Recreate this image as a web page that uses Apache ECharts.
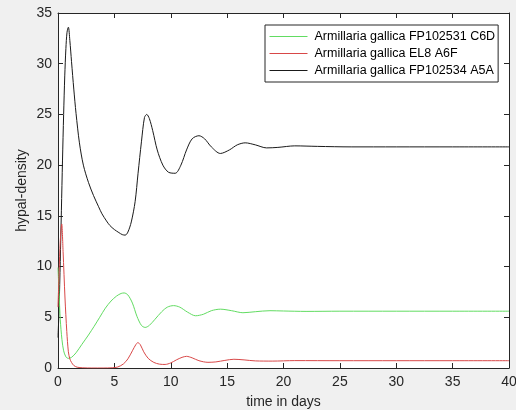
<!DOCTYPE html>
<html>
<head>
<meta charset="utf-8">
<script src="https://cdn.jsdelivr.net/npm/echarts@6/dist/echarts.min.js"></script>
<style>
  html, body { margin: 0; padding: 0; background: #f0f0f0; }
  #chart { width: 516px; height: 410px; }
</style>
</head>
<body>
<div id="chart"></div>
<script>
// series names (legend order)
var names = ['Armillaria gallica FP102531 C6D', 'Armillaria gallica EL8 A6F', 'Armillaria gallica FP102534 A5A'];

// green: FP102531 C6D
var tGreen = [0, 0.1, 0.2, 0.35, 0.5, 0.7, 0.92, 1.2, 1.6, 2.1, 2.7, 3.2, 3.7, 4.2, 4.7, 5.2, 5.6, 5.87, 6.2, 6.6, 7.0, 7.4, 7.73, 8.1, 8.6, 9.2, 9.7, 10.25, 10.8, 11.5, 12.2, 12.9, 13.6, 14.4, 15.4, 16.4, 17.5, 18.8, 20, 22, 25, 30, 35, 40];
var vGreen = [9.9, 7.3, 4.8, 2.8, 1.7, 1.1, 0.95, 1.05, 1.5, 2.3, 3.25, 4.1, 5.0, 5.9, 6.6, 7.1, 7.35, 7.4, 7.2, 6.4, 5.1, 4.2, 4.0, 4.2, 4.8, 5.55, 6.0, 6.15, 6.0, 5.5, 5.15, 5.3, 5.65, 5.8, 5.65, 5.45, 5.55, 5.65, 5.62, 5.58, 5.6, 5.6, 5.6, 5.6];

// red: EL8 A6F
var tRed = [0, 0.1, 0.2, 0.33, 0.45, 0.62, 0.78, 0.92, 1.05, 1.2, 1.4, 1.7, 2.2, 3, 4, 4.8, 5.3, 5.8, 6.2, 6.6, 6.9, 7.08, 7.3, 7.6, 8.0, 8.5, 9.0, 9.5, 10.0, 10.5, 11.0, 11.4, 11.9, 12.5, 13.3, 14.0, 14.8, 15.6, 16.5, 17.5, 19, 21, 25, 30, 35, 40];
var vRed = [6.0, 9.5, 12.5, 14.2, 11.5, 6.9, 3.6, 1.6, 0.9, 0.55, 0.25, 0.08, 0.02, 0, 0, 0.02, 0.1, 0.4, 0.9, 1.7, 2.3, 2.5, 2.3, 1.6, 0.95, 0.55, 0.38, 0.35, 0.5, 0.8, 1.05, 1.15, 1.0, 0.72, 0.56, 0.6, 0.75, 0.86, 0.8, 0.7, 0.68, 0.73, 0.72, 0.72, 0.72, 0.72];

// black: FP102534 A5A
var tBlack = [0, 0.1, 0.2, 0.3, 0.4, 0.5, 0.6, 0.7, 0.8, 0.92, 1.05, 1.2, 1.4, 1.6, 1.9, 2.25, 2.7, 3.15, 3.6, 3.9, 4.3, 4.6, 5.0, 5.4, 5.7, 5.96, 6.2, 6.5, 6.84, 7.1, 7.4, 7.67, 7.87, 8.1, 8.4, 8.8, 9.3, 9.8, 10.4, 10.9, 11.4, 11.9, 12.5, 13.0, 13.6, 14.4, 15.2, 15.9, 16.6, 17.5, 18.5, 19.5, 21, 23, 26, 30, 35, 40];
var vBlack = [3.0, 6, 10.5, 15.5, 20.5, 25, 28.8, 31.5, 33.1, 33.6, 32.3, 30.2, 27.5, 25.1, 22.2, 20.0, 18.3, 17.0, 15.9, 15.2, 14.5, 14.05, 13.65, 13.35, 13.15, 13.1, 13.4, 14.4, 16.4, 19.2, 22.3, 24.7, 25.0, 24.6, 23.4, 21.5, 20.0, 19.3, 19.2, 20.0, 21.5, 22.6, 22.9, 22.6, 21.8, 21.15, 21.5, 22.0, 22.2, 22.0, 21.7, 21.75, 21.9, 21.85, 21.8, 21.8, 21.8, 21.8];

var xTicks = [0, 5, 10, 15, 20, 25, 30, 35, 40];
var yTicks = [0, 5, 10, 15, 20, 25, 30, 35];

function pairs(t, v) {
    var out = [];
    for (var i = 0; i < t.length; i++) out.push([t[i], v[i]]);
    return out;
}

var axisColor = '#262626';
var font = "'Liberation Sans', Arial, sans-serif";

function makeAxis(pos, ticks, showLabel, extra) {
    var a = {
        type: 'value',
        position: pos,
        min: ticks[0],
        max: ticks[ticks.length - 1],
        interval: ticks[1] - ticks[0],
        axisLine: { show: true, onZero: false, lineStyle: { color: axisColor, width: 1 } },
        axisTick: { show: true, inside: true, length: 5, lineStyle: { color: axisColor } },
        splitLine: { show: false },
        axisLabel: { show: showLabel, color: axisColor, fontSize: 14, fontFamily: font }
    };
    for (var k in extra) a[k] = extra[k];
    return a;
}

var chart = echarts.init(document.getElementById('chart'), null, { renderer: 'canvas' });

var option = {
    backgroundColor: '#f0f0f0',
    animation: false,
    grid: {
        left: 58, right: 7, top: 13, bottom: 42,
        outerBoundsMode: 'none',
        show: true, backgroundColor: '#ffffff', borderWidth: 0
    },
    legend: {
        orient: 'vertical',
        left: 265, top: 25,
        data: names,
        itemWidth: 38, itemHeight: 12,
        itemGap: 4,
        padding: [5, 3, 5, 4],
        borderColor: axisColor, borderWidth: 1,
        backgroundColor: '#ffffff',
        itemStyle: { opacity: 0 },
        lineStyle: { width: 1 },
        textStyle: { color: '#000', fontSize: 12.5, fontFamily: font, padding: [0, 0, 0, 2] }
    },
    xAxis: [
        makeAxis('bottom', xTicks, true, {
            name: 'time in days', nameLocation: 'middle', nameGap: 27, nameMoveOverlap: false,
            nameTextStyle: { color: axisColor, fontSize: 14, fontFamily: font },
            axisLabel: { show: true, color: axisColor, fontSize: 14, fontFamily: font, margin: 7 }
        }),
        makeAxis('top', xTicks, false, {})
    ],
    yAxis: [
        makeAxis('left', yTicks, true, {
            name: 'hypal-density', nameLocation: 'middle', nameGap: 29, nameMoveOverlap: false,
            nameTextStyle: { color: axisColor, fontSize: 14, fontFamily: font },
            axisLabel: { show: true, color: axisColor, fontSize: 14, fontFamily: font, margin: 6 }
        }),
        makeAxis('right', yTicks, false, {})
    ],
    series: [
        { name: names[0], type: 'line', data: pairs(tGreen, vGreen), symbol: 'none', smooth: 0.3,
          color: '#62dc62', lineStyle: { width: 1, color: '#62dc62' }, z: 3 },
        { name: names[1], type: 'line', data: pairs(tRed, vRed), symbol: 'none', smooth: 0.3,
          color: '#d84848', lineStyle: { width: 1, color: '#d84848' }, z: 4 },
        { name: names[2], type: 'line', data: pairs(tBlack, vBlack), symbol: 'none', smooth: 0.3,
          color: '#1a1a1a', lineStyle: { width: 1, color: '#1a1a1a' }, z: 2 }
    ]
};

chart.setOption(option);
</script>
</body>
</html>
